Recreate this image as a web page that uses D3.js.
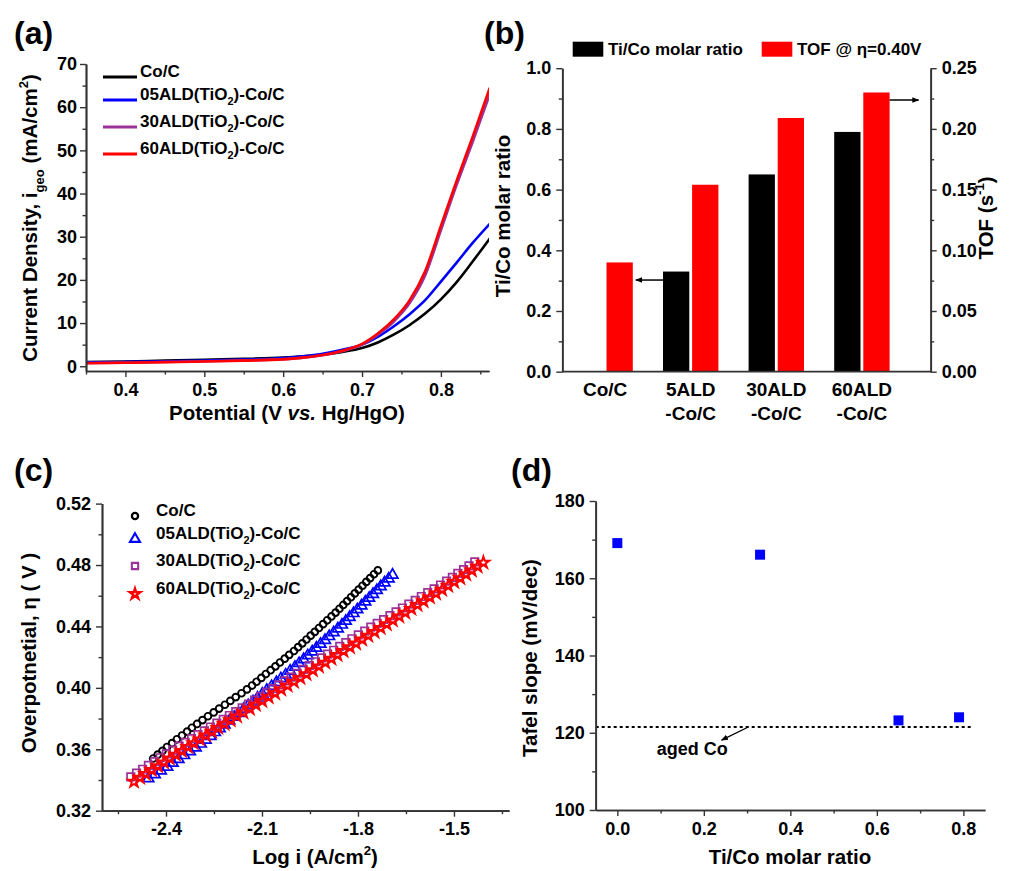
<!DOCTYPE html>
<html>
<head>
<meta charset="utf-8">
<script src="https://cdn.jsdelivr.net/npm/d3@7"></script>
<style>
  body { margin: 0; background: #fff; }
  svg text { font-family: Arial, 'Liberation Sans', sans-serif; font-weight: bold; fill: #000; }
</style>
</head>
<body>
<div id="chart"></div>
<script>
// ---- (a) LSV curves
const lsvPotential = [0.35, 0.40, 0.45, 0.50, 0.55, 0.60, 0.625, 0.65, 0.675, 0.70, 0.72, 0.74, 0.76, 0.78, 0.80, 0.82, 0.84, 0.862];
const lsvCoC  = [1.0, 1.1, 1.3, 1.5, 1.7, 2.0, 2.3, 2.7, 3.3, 4.2, 5.5, 7.3, 9.5, 12.2, 15.5, 19.5, 24.2, 29.6];
const lsv05   = [0.9, 1.0, 1.15, 1.3, 1.55, 1.9, 2.3, 2.9, 3.8, 5.0, 6.8, 9.2, 12.0, 15.3, 19.6, 24.0, 28.5, 33.0];
const lsv30   = [0.75, 0.85, 1.0, 1.15, 1.35, 1.65, 2.0, 2.55, 3.5, 5.0, 7.3, 10.3, 14.5, 21.0, 31.5, 42.0, 51.8, 63.0];
const lsv60   = [0.7, 0.8, 0.95, 1.1, 1.3, 1.6, 2.0, 2.6, 3.6, 5.2, 7.6, 10.8, 15.2, 22.0, 32.5, 43.0, 53.0, 64.5];
const sampleNames = ['Co/C', '05ALD', '30ALD', '60ALD'];
const sampleColors = ['#000000', '#0000ff', '#993399', '#ff0000'];

// ---- (b) bars
const barCategories = [['Co/C'], ['5ALD', '-Co/C'], ['30ALD', '-Co/C'], ['60ALD', '-Co/C']];
const tiCoRatio = [0, 0.33, 0.65, 0.79];
const tofValues = [0.090, 0.154, 0.209, 0.230];

// ---- (c) Tafel plots
const tafelCoEta = [0.354,0.3565,0.359,0.3615,0.364,0.3665,0.369,0.3715,0.374,0.3765,0.379,0.3815,0.384,0.3865,0.389,0.3915,0.394,0.3965,0.399,0.4015,0.404,0.4065,0.409,0.4115,0.414,0.4165,0.419,0.4215,0.424,0.4265,0.429,0.4315,0.434,0.4365,0.439,0.4415,0.444,0.4465,0.449,0.4515,0.454,0.4565,0.459,0.4615,0.464,0.4665,0.469,0.4715,0.474,0.4765];
const tafelCoLogI = [-2.440,-2.426,-2.411,-2.397,-2.381,-2.366,-2.350,-2.334,-2.319,-2.303,-2.286,-2.269,-2.251,-2.234,-2.216,-2.199,-2.182,-2.164,-2.147,-2.131,-2.117,-2.102,-2.088,-2.073,-2.058,-2.044,-2.029,-2.015,-2.000,-1.987,-1.974,-1.961,-1.948,-1.935,-1.922,-1.909,-1.896,-1.883,-1.870,-1.858,-1.846,-1.834,-1.822,-1.810,-1.798,-1.786,-1.774,-1.762,-1.750,-1.738];
const tafel05Eta = [0.341,0.3435,0.346,0.3485,0.351,0.3535,0.356,0.3585,0.361,0.3635,0.366,0.3685,0.371,0.3735,0.376,0.3785,0.381,0.3835,0.386,0.3885,0.391,0.3935,0.396,0.3985,0.401,0.4035,0.406,0.4085,0.411,0.4135,0.416,0.4185,0.421,0.4235,0.426,0.4285,0.431,0.4335,0.436,0.4385,0.441,0.4435,0.446,0.4485,0.451,0.4535,0.456,0.4585,0.461,0.4635,0.466,0.4685,0.471,0.4735];
const tafel05LogI = [-2.455,-2.435,-2.416,-2.396,-2.379,-2.361,-2.343,-2.325,-2.307,-2.291,-2.276,-2.261,-2.247,-2.232,-2.217,-2.202,-2.187,-2.173,-2.158,-2.143,-2.128,-2.114,-2.099,-2.085,-2.070,-2.055,-2.041,-2.026,-2.012,-1.997,-1.984,-1.970,-1.957,-1.943,-1.930,-1.917,-1.903,-1.890,-1.876,-1.863,-1.850,-1.838,-1.826,-1.814,-1.802,-1.789,-1.777,-1.765,-1.753,-1.741,-1.729,-1.717,-1.704,-1.692];
const tafel30Eta = [0.342,0.3445,0.347,0.3495,0.352,0.3545,0.357,0.3595,0.362,0.3645,0.367,0.3695,0.372,0.3745,0.377,0.3795,0.382,0.3845,0.387,0.3895,0.392,0.3945,0.397,0.3995,0.402,0.4045,0.407,0.4095,0.412,0.4145,0.417,0.4195,0.422,0.4245,0.427,0.4295,0.432,0.4345,0.437,0.4395,0.442,0.4445,0.447,0.4495,0.452,0.4545,0.457,0.4595,0.462,0.4645,0.467,0.4695,0.472,0.4745,0.477,0.4795,0.482];
const tafel30LogI = [-2.510,-2.492,-2.473,-2.455,-2.436,-2.418,-2.399,-2.379,-2.359,-2.340,-2.320,-2.300,-2.280,-2.261,-2.241,-2.221,-2.202,-2.182,-2.162,-2.142,-2.123,-2.104,-2.085,-2.066,-2.047,-2.028,-2.009,-1.990,-1.971,-1.952,-1.933,-1.914,-1.895,-1.876,-1.857,-1.838,-1.819,-1.799,-1.779,-1.760,-1.740,-1.720,-1.700,-1.681,-1.661,-1.641,-1.621,-1.602,-1.582,-1.562,-1.542,-1.523,-1.505,-1.488,-1.470,-1.453,-1.435];
const tafel60Eta = [0.339,0.3415,0.344,0.3465,0.349,0.3515,0.354,0.3565,0.359,0.3615,0.364,0.3665,0.369,0.3715,0.374,0.3765,0.379,0.3815,0.384,0.3865,0.389,0.3915,0.394,0.3965,0.399,0.4015,0.404,0.4065,0.409,0.4115,0.414,0.4165,0.419,0.4215,0.424,0.4265,0.429,0.4315,0.434,0.4365,0.439,0.4415,0.444,0.4465,0.449,0.4515,0.454,0.4565,0.459,0.4615,0.464,0.4665,0.469,0.4715,0.474,0.4765,0.479,0.4815];
const tafel60LogI = [-2.500,-2.481,-2.463,-2.444,-2.425,-2.406,-2.388,-2.369,-2.350,-2.331,-2.313,-2.294,-2.275,-2.256,-2.237,-2.217,-2.198,-2.178,-2.158,-2.138,-2.119,-2.099,-2.079,-2.059,-2.040,-2.020,-2.000,-1.980,-1.961,-1.941,-1.922,-1.902,-1.883,-1.864,-1.845,-1.825,-1.806,-1.787,-1.768,-1.748,-1.729,-1.710,-1.691,-1.671,-1.652,-1.633,-1.614,-1.595,-1.575,-1.556,-1.537,-1.518,-1.499,-1.480,-1.462,-1.444,-1.426,-1.408];

// ---- (d) Tafel slope vs ratio
const slopeRatio = [0, 0.33, 0.65, 0.79];
const tafelSlope = [169.1, 166.1, 123.2, 124.0];
const agedCoSlope = 121.5;

const FONT = "Arial, 'Liberation Sans', sans-serif";
const AX = '#333';
const TICK_FS = 18, TITLE_FS = 20.5, LEGEND_FS = 17;

let svg = d3.select('#chart').append('svg')
  .attr('width', 1021)
  .attr('height', 871);

let defs = svg.append('defs');
defs.append('marker')
  .attr('id', 'arrow')
  .attr('viewBox', '0 0 10 10')
  .attr('refX', 9).attr('refY', 5)
  .attr('markerWidth', 7).attr('markerHeight', 7)
  .attr('markerUnits', 'userSpaceOnUse')
  .attr('orient', 'auto')
  .append('path')
  .attr('d', 'M0,1 L10,5 L0,9 Z')
  .attr('fill', '#000');

function addAxis(kind, scale, major, minor, fmt, tx, ty, pad) {
  let mk = kind === 'left' ? d3.axisLeft : kind === 'right' ? d3.axisRight : d3.axisBottom;
  let gMinor = svg.append('g').attr('transform', 'translate(' + tx + ',' + ty + ')');
  gMinor.call(mk(scale).tickValues(minor).tickSize(3.5).tickFormat('').tickSizeOuter(0));
  let g = svg.append('g').attr('transform', 'translate(' + tx + ',' + ty + ')');
  g.call(mk(scale).tickValues(major).tickSize(6).tickPadding(pad).tickFormat(fmt).tickSizeOuter(0));
  [gMinor, g].forEach(s => {
    s.selectAll('.domain').attr('stroke', AX).attr('stroke-width', 1.7);
    s.selectAll('.tick line').attr('stroke', AX).attr('stroke-width', 1.4);
  });
  g.attr('font-family', FONT).attr('font-size', TICK_FS).attr('font-weight', 'bold');
  g.selectAll('.tick text').attr('fill', '#000');
  return g;
}

// text with sub / superscripts: parts = [[str, 'n'|'sub'|'sup'], ...]
function richText(parent, parts, x, y, size, opts) {
  opts = opts || {};
  let t = parent.append('text')
    .attr('font-size', size)
    .attr('text-anchor', opts.anchor || 'start');
  if (opts.rotate) {
    t.attr('transform', 'translate(' + x + ',' + y + ') rotate(-90)').attr('dy', '0.35em');
  } else {
    t.attr('x', x).attr('y', y);
    if (opts.dy) t.attr('dy', opts.dy);
  }
  let shift = 0;
  parts.forEach(p => {
    let target = p[1] === 'sub' ? size * 0.32 : p[1] === 'sup' ? -size * 0.42 : 0;
    let ts = t.append('tspan').text(p[0]).attr('dy', target - shift);
    if (p[1] !== 'n') ts.attr('font-size', size * 0.64);
    if (p[2] === 'italic') ts.attr('font-style', 'italic');
    shift = target;
  });
  return t;
}

function panelLabel(txt, x, y) {
  svg.append('text').attr('x', x).attr('y', y).attr('font-size', 32).text(txt);
}

// ================= (a) =================
{
  let x = d3.scaleLinear().domain([0.35, 0.861]).range([86, 489]);
  let y = d3.scaleLinear().domain([-1.1, 70]).range([371, 64]);

  svg.append('clipPath').attr('id', 'clipA')
    .append('rect').attr('x', 86).attr('y', 60).attr('width', 403).attr('height', 311);

  let series = [lsvCoC, lsv05, lsv30, lsv60];
  let line = d3.line().curve(d3.curveMonotoneX);
  series.forEach((vals, i) => {
    let pts = lsvPotential.map((p, j) => [x(p), y(vals[j])]);
    svg.append('path')
      .attr('d', line(pts))
      .attr('clip-path', 'url(#clipA)')
      .attr('fill', 'none')
      .attr('stroke', sampleColors[i])
      .attr('stroke-width', 2.6);
  });

  addAxis('bottom', x, [0.4, 0.5, 0.6, 0.7, 0.8], [0.35, 0.45, 0.55, 0.65, 0.75, 0.85], d => d.toFixed(1), 0, 371, 6);
  addAxis('left', y, d3.range(0, 71, 10), d3.range(5, 70, 10), d3.format('d'), 86, 0, 3);

  // legend
  let rowsY = [77, 100, 127, 154];
  sampleNames.forEach((n, i) => {
    svg.append('line').attr('x1', 103).attr('x2', 137).attr('y1', rowsY[i]).attr('y2', rowsY[i])
      .attr('stroke', sampleColors[i]).attr('stroke-width', 3);
    let parts = i === 0 ? [['Co/C', 'n']] : [[n + '(TiO', 'n'], ['2', 'sub'], [')-Co/C', 'n']];
    richText(svg, parts, 140, rowsY[i], LEGEND_FS, { dy: '0.36em' });
  });

  richText(svg, [['Potential (V ', 'n'], ['vs.', 'n', 'italic'], [' Hg/HgO)', 'n']], 287, 420, TITLE_FS, { anchor: 'middle' });
  richText(svg, [['Current Density, i', 'n'], ['geo', 'sub'], [' (mA/cm', 'n'], ['2', 'sup'], [')', 'n']], 37, 218, TITLE_FS, { anchor: 'middle', rotate: true });
  panelLabel('(a)', 14, 44);
}

// ================= (b) =================
{
  let catNames = barCategories.map(c => c.join(''));
  let xb = d3.scaleBand().domain(catNames).range([562.3, 904.7]);
  let yl = d3.scaleLinear().domain([0, 1]).range([371.7, 68.2]);
  let yr = d3.scaleLinear().domain([0, 0.25]).range([371.7, 68.2]);
  let bw = 26.3, gap = 1.4;
  let cx = n => xb(n) + xb.bandwidth() / 2;

  catNames.forEach((n, i) => {
    if (tiCoRatio[i] > 0) {
      svg.append('rect').attr('x', cx(n) - gap - bw).attr('width', bw)
        .attr('y', yl(tiCoRatio[i])).attr('height', yl(0) - yl(tiCoRatio[i]))
        .attr('fill', '#000');
    }
    svg.append('rect').attr('x', cx(n) + gap).attr('width', bw)
      .attr('y', yr(tofValues[i])).attr('height', yr(0) - yr(tofValues[i]))
      .attr('fill', '#ff0000');
    barCategories[i].forEach((line, k) => {
      svg.append('text').attr('x', cx(n)).attr('y', 396 + k * 24)
        .attr('text-anchor', 'middle').attr('font-size', 19).text(line);
    });
  });

  // bottom axis line (no ticks)
  svg.append('line').attr('x1', 562.3).attr('x2', 930.7).attr('y1', 371.7).attr('y2', 371.7)
    .attr('stroke', AX).attr('stroke-width', 1.7);

  addAxis('left', yl, d3.range(0, 1.01, 0.2), [0.1, 0.3, 0.5, 0.7, 0.9], d => d.toFixed(1), 562.3, 0, 5);
  addAxis('right', yr, [0, 0.05, 0.10, 0.15, 0.20, 0.25], [0.025, 0.075, 0.125, 0.175, 0.225], d => d.toFixed(2), 930.7, 0, 5);

  // arrows pointing to axes
  let yArrowL = yl(0.302);
  svg.append('line').attr('x1', cx(catNames[1]) - gap - bw).attr('y1', yArrowL)
    .attr('x2', cx(catNames[0]) + gap + bw + 3).attr('y2', yArrowL)
    .attr('stroke', '#000').attr('stroke-width', 1.5).attr('marker-end', 'url(#arrow)');
  let yArrowR = yr(0.2238);
  svg.append('line').attr('x1', cx(catNames[3]) + gap + bw).attr('y1', yArrowR)
    .attr('x2', cx(catNames[3]) + gap + bw + 29).attr('y2', yArrowR)
    .attr('stroke', '#000').attr('stroke-width', 1.5).attr('marker-end', 'url(#arrow)');

  // legend
  svg.append('rect').attr('x', 572.7).attr('y', 41.7).attr('width', 30.6).attr('height', 15).attr('fill', '#000');
  svg.append('text').attr('x', 608).attr('y', 49).attr('dy', '0.36em').attr('font-size', 17).text('Ti/Co molar ratio');
  svg.append('rect').attr('x', 761.7).attr('y', 41.7).attr('width', 30.6).attr('height', 15).attr('fill', '#ff0000');
  svg.append('text').attr('x', 797).attr('y', 49).attr('dy', '0.36em').attr('font-size', 17).text('TOF @ \u03b7=0.40V');

  richText(svg, [['Ti/Co molar ratio', 'n']], 510, 216, TITLE_FS, { anchor: 'middle', rotate: true });
  richText(svg, [['TOF (s', 'n'], ['-1', 'sup'], [')', 'n']], 993, 218, TITLE_FS, { anchor: 'middle', rotate: true });
  panelLabel('(b)', 484, 44);
}

// ================= (c) =================
{
  let x = d3.scaleLinear().domain([-2.6, -1.328]).range([102, 509]);
  let y = d3.scaleLinear().domain([0.32, 0.52]).range([810.7, 503.6]);

  let symbols = [
    { type: d3.symbolCircle, size: 36, sw: 1.9, leg: 30 },
    { type: d3.symbolTriangle, size: 50, sw: 1.7, leg: 44 },
    { type: d3.symbolSquare, size: 56, sw: 1.7, leg: 40 },
    { type: d3.symbolStar, size: 42, sw: 2.0, leg: 34 }
  ];
  let etas = [tafelCoEta, tafel05Eta, tafel30Eta, tafel60Eta];
  let logis = [tafelCoLogI, tafel05LogI, tafel30LogI, tafel60LogI];

  etas.forEach((eta, i) => {
    let sym = d3.symbol().type(symbols[i].type).size(symbols[i].size);
    svg.append('g').selectAll('path')
      .data(eta.map((e, j) => [logis[i][j], e]))
      .enter()
      .append('path')
      .attr('d', sym)
      .attr('transform', d => 'translate(' + x(d[0]) + ',' + y(d[1]) + ')')
      .attr('fill', 'none')
      .attr('stroke', sampleColors[i])
      .attr('stroke-width', symbols[i].sw);
  });

  addAxis('bottom', x, [-2.4, -2.1, -1.8, -1.5], [-2.55, -2.25, -1.95, -1.65, -1.35], d => d.toFixed(1), 0, 810.7, 6);
  addAxis('left', y, [0.32, 0.36, 0.40, 0.44, 0.48, 0.52], [0.34, 0.38, 0.42, 0.46, 0.50], d => d.toFixed(2), 102, 0, 5);

  // legend
  let rowsY = [516, 539, 566, 594];
  sampleNames.forEach((n, i) => {
    let sym = d3.symbol().type(symbols[i].type).size(symbols[i].leg);
    svg.append('path').attr('d', sym).attr('transform', 'translate(135,' + rowsY[i] + ')')
      .attr('fill', 'none').attr('stroke', sampleColors[i]).attr('stroke-width', symbols[i].sw + 0.4);
    let parts = i === 0 ? [['Co/C', 'n']] : [[n + '(TiO', 'n'], ['2', 'sub'], [')-Co/C', 'n']];
    richText(svg, parts, 156, rowsY[i], LEGEND_FS, { dy: '0.36em' });
  });

  richText(svg, [['Log i (A/cm', 'n'], ['2', 'sup'], [')', 'n']], 315, 864, TITLE_FS, { anchor: 'middle' });
  richText(svg, [['Overpotnetial, \u03b7 ( V )', 'n']], 36, 653, TITLE_FS, { anchor: 'middle', rotate: true });
  panelLabel('(c)', 14, 481);
}

// ================= (d) =================
{
  let x = d3.scaleLinear().domain([-0.05, 0.85]).range([595.7, 985]);
  let y = d3.scaleLinear().domain([100, 180]).range([810, 501]);

  // aged Co reference level
  svg.append('line')
    .attr('x1', x(-0.05)).attr('x2', x(0.823))
    .attr('y1', y(agedCoSlope)).attr('y2', y(agedCoSlope))
    .attr('stroke', '#000').attr('stroke-width', 2).attr('stroke-dasharray', '3,3');
  svg.append('line')
    .attr('x1', x(0.303)).attr('y1', y(agedCoSlope))
    .attr('x2', x(0.241)).attr('y2', y(118.1))
    .attr('stroke', '#000').attr('stroke-width', 1.2).attr('marker-end', 'url(#arrow)');
  svg.append('text').attr('x', x(0.091)).attr('y', y(114.3)).attr('font-size', 18).text('aged Co');

  svg.append('g').selectAll('rect')
    .data(slopeRatio.map((r, i) => [r, tafelSlope[i]]))
    .enter()
    .append('rect')
    .attr('x', d => x(d[0]) - 5)
    .attr('y', d => y(d[1]) - 5)
    .attr('width', 10)
    .attr('height', 10)
    .attr('fill', '#0000ff');

  addAxis('bottom', x, [0, 0.2, 0.4, 0.6, 0.8], [0.1, 0.3, 0.5, 0.7], d => d.toFixed(1), 0, 810, 6);
  addAxis('left', y, [100, 120, 140, 160, 180], [110, 130, 150, 170], d3.format('d'), 595.7, 0, 5);

  richText(svg, [['Ti/Co molar ratio', 'n']], 790, 864, TITLE_FS, { anchor: 'middle' });
  richText(svg, [['Tafel slope (mV/dec)', 'n']], 537, 658, TITLE_FS, { anchor: 'middle', rotate: true });
  panelLabel('(d)', 511, 481);
}
</script>
</body>
</html>
